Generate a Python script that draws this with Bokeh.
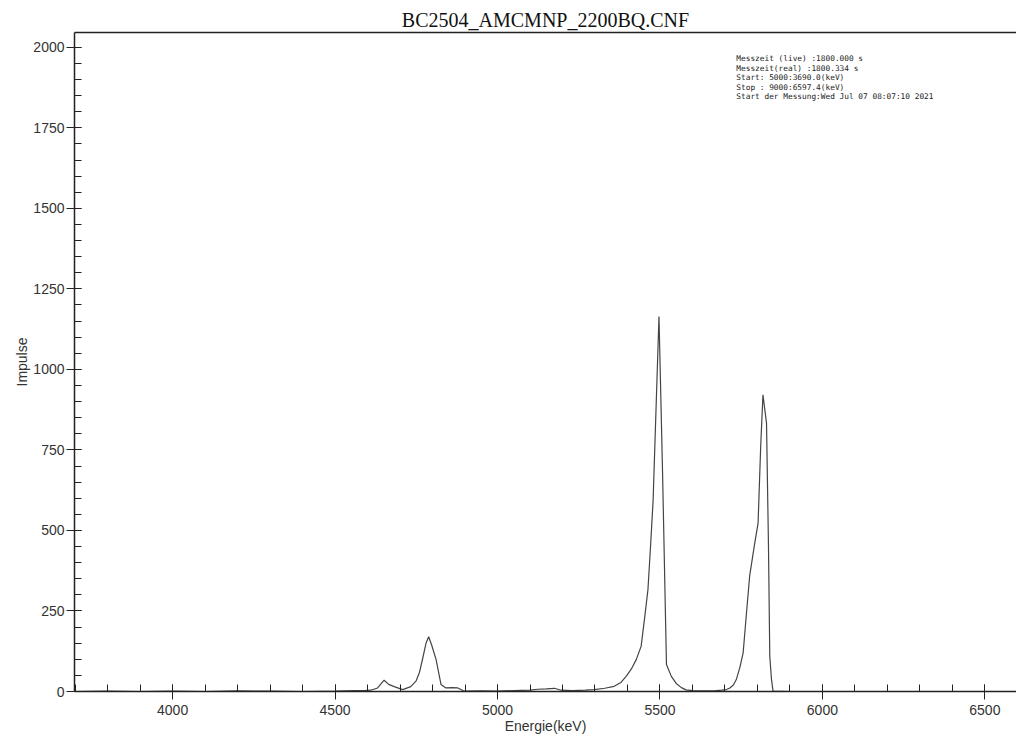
from bokeh.plotting import figure
from bokeh.models import Label, Range1d, FixedTicker, LinearAxis
from bokeh.embed import file_html
from bokeh.resources import INLINE

# Spectrum (energy in keV, counts)
energy = [3690, 3800, 3900, 4000, 4100, 4200, 4300, 4400, 4500, 4560, 4590, 4610,
          4631, 4651, 4665, 4682, 4708, 4733, 4749, 4760, 4770, 4780, 4788, 4797,
          4811, 4826, 4841, 4860, 4878, 4898, 4950, 5000, 5050, 5100, 5124, 5150,
          5175, 5196, 5230, 5270, 5298, 5330, 5359, 5380, 5396, 5412, 5427, 5442,
          5453, 5463, 5471, 5479, 5488, 5497, 5508, 5520, 5535, 5550, 5566, 5580,
          5600, 5640, 5668, 5690, 5705, 5715, 5726, 5735, 5746, 5756, 5766, 5776,
          5790, 5802, 5810, 5817, 5828, 5834, 5838, 5843, 5848, 5900, 6000, 6200,
          6400, 6597]
counts = [0, 1, 0, 1, 0, 2, 1, 0, 1, 3, 3, 4,
          11, 35, 22, 15, 6, 15, 32, 60, 104, 150, 170, 145,
          99, 22, 11, 12, 11, 1, 2, 1, 3, 4, 7, 8,
          10, 4, 3, 4, 6, 10, 16, 28, 47, 70, 99, 140,
          230, 316, 450, 595, 880, 1164, 680, 84, 47, 25, 12, 5,
          3, 2, 2, 4, 6, 11, 20, 37, 75, 120, 240, 358,
          450, 523, 760, 921, 833, 450, 110, 40, 1, 0, 0, 0,
          0, 0]

x_ticks = [4000, 4500, 5000, 5500, 6000, 6500]
y_ticks = [0, 250, 500, 750, 1000, 1250, 1500, 1750, 2000]

title_text = "BC2504_AMCMNP_2200BQ.CNF"
info_lines = [
    "Messzeit (live)  :1800.000 s",
    "Messzeit(real) :1800.334 s",
    "Start: 5000:3690.0(keV)",
    "Stop : 9000:6597.4(keV)",
    "Start der Messung:Wed Jul 07 08:07:10 2021",
]

tick_font = "Liberation Sans"

p = figure(width=1016, height=736, output_backend="svg", toolbar_location=None,
           x_range=Range1d(3698, 6597.4), y_range=Range1d(0, 2046),
           min_border_left=74, min_border_right=0, min_border_top=32,
           min_border_bottom=44)

p.title.text = title_text
p.title.align = "center"
p.title.vertical_align = "top"
p.title.text_font = "Liberation Serif"
p.title.text_font_size = "20px"
p.title.text_font_style = "normal"
p.title.text_color = "#111111"
p.title.offset = 0
p.title.standoff = 0

p.line(energy, counts, line_color="#444444", line_width=1.2)

p.grid.visible = False
p.outline_line_color = None
p.background_fill_color = "white"
p.border_fill_color = "white"

xax = p.below[0]
yax = p.left[0]

for ax in (xax, yax):
    ax.axis_line_color = "#222222"
    ax.axis_line_width = 1.5
    ax.major_tick_line_color = "#222222"
    ax.minor_tick_line_color = "#222222"
    ax.major_tick_in = 7
    ax.major_tick_out = 8
    ax.minor_tick_in = 7
    ax.minor_tick_out = 0
    ax.major_label_text_font = tick_font
    ax.major_label_text_font_size = "14px"
    ax.major_label_text_color = "#333333"
    ax.axis_label_text_font = tick_font
    ax.axis_label_text_font_size = "14px"
    ax.axis_label_text_font_style = "normal"
    ax.axis_label_text_color = "#333333"

xax.ticker = FixedTicker(ticks=x_ticks, minor_ticks=list(range(3700, 6600, 100)))
yax.ticker = FixedTicker(ticks=y_ticks, minor_ticks=list(range(0, 2050, 50)))
xax.axis_label = "Energie(keV)"
yax.axis_label = "Impulse"
xax.axis_label_standoff = 0
yax.axis_label_standoff = 0
xax.major_label_standoff = 5
yax.major_label_standoff = 2

top_axis = LinearAxis(ticker=FixedTicker(ticks=[]), major_tick_out=0, major_tick_in=0,
                      minor_tick_in=0, minor_tick_out=0, major_label_text_font_size="0px",
                      axis_line_color="#222222", axis_line_width=1.5)
p.add_layout(top_axis, "above")

info = Label(x=5735, y=1978, text="\n".join(info_lines), text_font="DejaVu Sans Mono",
             text_font_size="7.8px", text_line_height=1.05, text_color="#222222",
             text_baseline="top", text_align="left")
p.add_layout(info)

open("out.html", "w").write(file_html(p, INLINE))
